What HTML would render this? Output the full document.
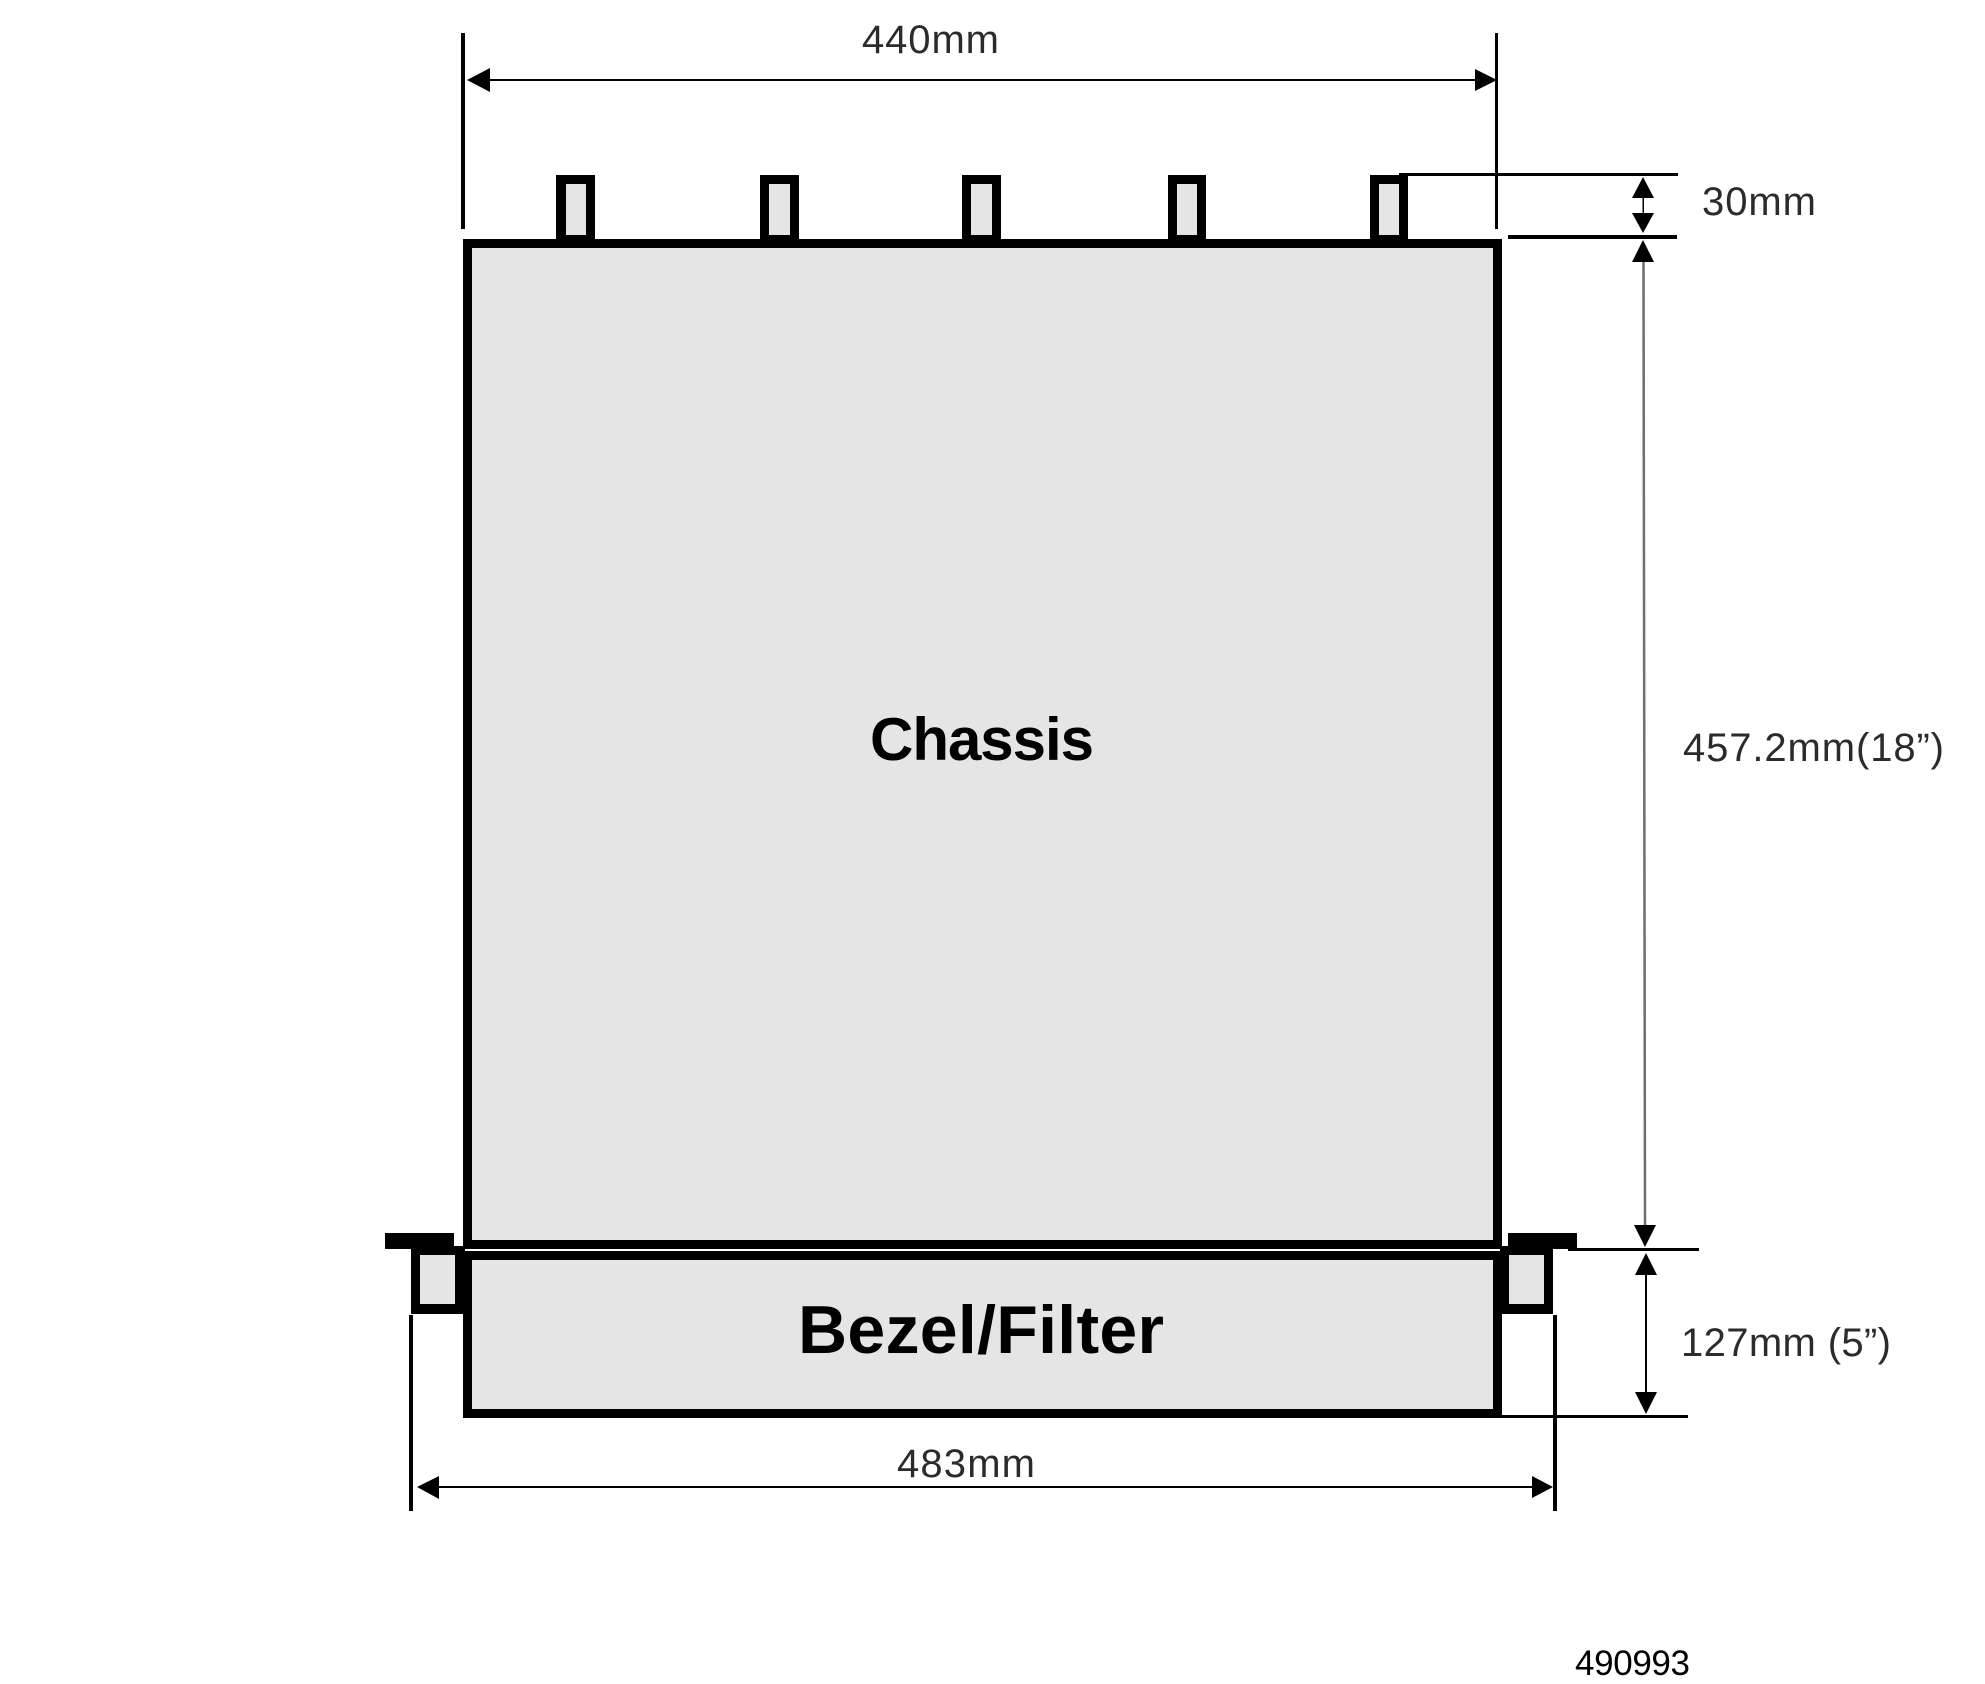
<!DOCTYPE html>
<html>
<head>
<meta charset="utf-8">
<style>
html,body{margin:0;padding:0;background:#fff;width:1985px;height:1684px;overflow:hidden}
svg{display:block}
text{font-family:"Liberation Sans",sans-serif}
.d{font-size:40px;fill:#2b2b2b}
</style>
</head>
<body>
<svg width="1985" height="1684" viewBox="0 0 1985 1684" xmlns="http://www.w3.org/2000/svg">
<rect width="1985" height="1684" fill="#fff"/>

<!-- Chassis -->
<rect x="463" y="239" width="1039" height="1010" fill="#000"/>
<rect x="472" y="248" width="1021" height="992" fill="#e5e5e5"/>
<!-- Bezel -->
<rect x="463" y="1251" width="1039" height="167" fill="#000"/>
<rect x="472" y="1260" width="1021" height="149" fill="#e5e5e5"/>

<!-- Top tabs -->
<rect x="556" y="175" width="39" height="65" fill="#000"/><rect x="566" y="184" width="20" height="51" fill="#e5e5e5"/>
<rect x="760" y="175" width="39" height="65" fill="#000"/><rect x="769" y="184" width="21" height="51" fill="#e5e5e5"/>
<rect x="962" y="175" width="39" height="65" fill="#000"/><rect x="971" y="184" width="21" height="51" fill="#e5e5e5"/>
<rect x="1168" y="175" width="38" height="65" fill="#000"/><rect x="1177" y="184" width="20" height="51" fill="#e5e5e5"/>
<rect x="1370" y="175" width="38" height="65" fill="#000"/><rect x="1379" y="184" width="20" height="51" fill="#e5e5e5"/>

<!-- Left flange -->
<rect x="385" y="1233" width="69" height="16" fill="#000"/>
<rect x="411" y="1246" width="54" height="68" fill="#000"/>
<rect x="420" y="1255" width="35" height="49" fill="#e5e5e5"/>
<!-- Right flange -->
<rect x="1508" y="1233" width="69" height="16" fill="#000"/>
<rect x="1500" y="1246" width="53" height="68" fill="#000"/>
<rect x="1509" y="1255" width="35" height="49" fill="#e5e5e5"/>

<!-- Extension lines -->
<g fill="#000">
<rect x="461" y="33" width="4" height="196"/>
<rect x="1495" y="33" width="3" height="196"/>
<rect x="1399" y="173" width="279" height="3"/>
<rect x="1508" y="235" width="169" height="4"/>
<rect x="1568" y="1248" width="131" height="3"/>
<rect x="1502" y="1415" width="186" height="3"/>
<rect x="409" y="1315" width="4" height="196"/>
<rect x="1553" y="1315" width="4" height="196"/>
<!-- Dimension lines -->
<rect x="490" y="79" width="985" height="2"/>
<rect x="439" y="1486" width="1093" height="2"/>
<rect x="1642.5" y="198" width="1.5" height="15"/>
<rect x="1645" y="1275" width="2" height="117"/>
<!-- Arrowheads -->
<polygon points="467,80 490,68 490,92"/>
<polygon points="1497,80 1475,69 1475,91"/>
<polygon points="417,1487 439,1476 439,1499"/>
<polygon points="1553,1487 1532,1476 1532,1498"/>
<polygon points="1643,177 1632,198 1654,198"/>
<polygon points="1643,233 1632,213 1654,213"/>
<polygon points="1643,240 1632,262 1654,262"/>
<polygon points="1645,1247 1634,1225 1656,1225"/>
<polygon points="1646,1253 1635,1275 1657,1275"/>
<polygon points="1646,1414 1635,1392 1657,1392"/>
</g>
<line x1="1643.5" y1="262" x2="1645" y2="1225" stroke="#6e6e6e" stroke-width="2.5"/>

<!-- Labels -->
<text x="862" y="53" class="d" textLength="137" lengthAdjust="spacing">440mm</text>
<text x="1702" y="215" class="d" textLength="114" lengthAdjust="spacing">30mm</text>
<text x="1683" y="761" class="d" textLength="261" lengthAdjust="spacing">457.2mm(18”)</text>
<text x="1681" y="1356" class="d" textLength="210" lengthAdjust="spacing">127mm (5”)</text>
<text x="897" y="1477" class="d" textLength="138" lengthAdjust="spacing">483mm</text>
<text x="870" y="760" font-size="60" font-weight="bold" fill="#000" textLength="224" lengthAdjust="spacing">Chassis</text>
<text x="798" y="1353" font-size="68" font-weight="bold" fill="#000" textLength="366" lengthAdjust="spacing">Bezel/Filter</text>
<text x="1575" y="1675" font-size="35" fill="#000" textLength="115" lengthAdjust="spacing">490993</text>
</svg>
</body>
</html>
